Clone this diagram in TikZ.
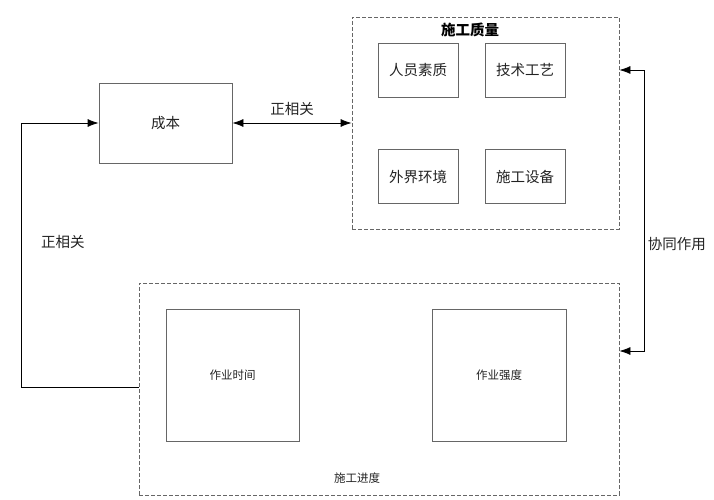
\documentclass[tikz,border=0pt]{standalone}
\usepackage{fontspec}
\newfontfamily\cjk{Noto Sans CJK SC}
\usetikzlibrary{arrows.meta}
\definecolor{boxgray}{HTML}{666666}
\definecolor{textgray}{HTML}{222222}
\begin{document}
\begin{tikzpicture}[x=1pt, y=-1pt, >={Latex[length=11pt,width=8pt]},
    box/.style={draw=boxgray, line width=0.8pt, inner sep=0pt,
        font=\cjk\fontsize{14.5}{16}\selectfont, text=textgray},
    smallbox/.style={box, font=\cjk\fontsize{11.5}{13}\selectfont},
    groupbox/.style={draw=boxgray, line width=0.8pt, dash pattern=on 4pt off 2pt},
    lbl/.style={font=\cjk\fontsize{14.5}{16}\selectfont, text=textgray, inner sep=1pt},
    link/.style={line width=0.8pt, black}]
    % 1. Khung ảnh
    \useasboundingbox (0,0) rectangle (714,500);

    % 2. Khối chi phí
    \node[box, minimum width=133pt, minimum height=80pt] (cost) at (165.5,123) {成本};

    % 3. Nhóm chất lượng thi công
    \node[groupbox, minimum width=267pt, minimum height=212pt] (quality) at (485.5,123) {};
    \node[lbl, font=\cjk\bfseries\fontsize{14.5}{16}\selectfont, text=black] (qtitle) at (470,30) {施工质量};
    \node[box, minimum width=80pt, minimum height=54pt] (staff) at (418,70) {人员素质};
    \node[box, minimum width=80pt, minimum height=54pt] (tech) at (525,70) {技术工艺};
    \node[box, minimum width=80pt, minimum height=54pt] (env) at (418,176.5) {外界环境};
    \node[box, minimum width=80pt, minimum height=54pt] (equip) at (525,176.5) {施工设备};

    % 4. Nhóm tiến độ thi công
    \node[groupbox, minimum width=480pt, minimum height=212pt] (schedule) at (379,389) {};
    \node[smallbox, minimum width=133pt, minimum height=132pt] (worktime) at (232.5,375) {作业时间};
    \node[smallbox, minimum width=134pt, minimum height=132pt] (intensity) at (499,375) {作业强度};
    \node[lbl, font=\cjk\fontsize{11.5}{13}\selectfont] (stitle) at (357,478) {施工进度};

    % 5. Các mũi tên liên hệ
    \draw[link, <->] (cost.east) -- (quality.west)
        node[lbl, midway, above=6pt] {正相关};
    \draw[link, ->] ([yshift=2pt]schedule.west) -- ++(-117,0) |- (cost.west)
        node[lbl, pos=0.275, right=18pt] {正相关};
    \draw[link, <->] ([yshift=53pt]quality.east) -- ++(25,0)
        |- node[lbl, pos=0.31, right=2pt] {协同作用} ([yshift=38pt]schedule.east);
\end{tikzpicture}
\end{document}
